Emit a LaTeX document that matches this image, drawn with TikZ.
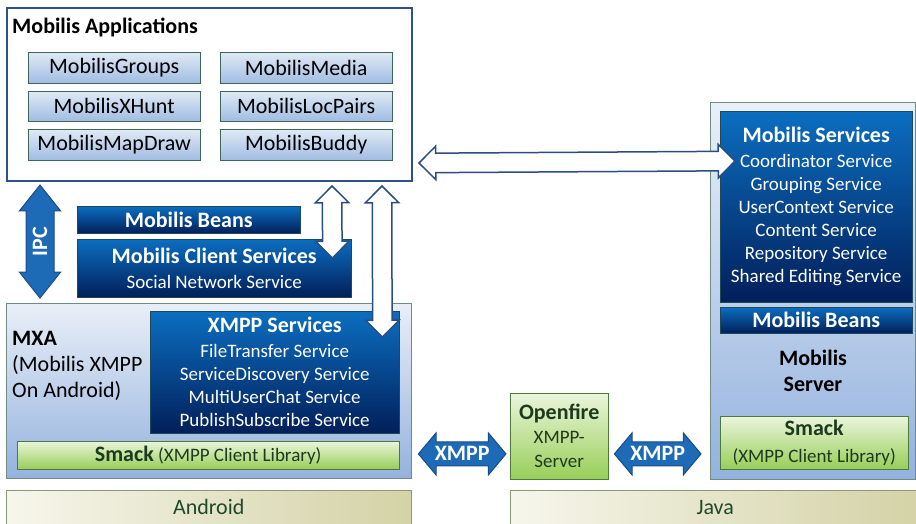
\documentclass[tikz,border=0pt]{standalone}
\usepackage{fontspec}
\setmainfont{Carlito}
\usetikzlibrary{shapes.arrows,calc}

\definecolor{appframe}{HTML}{2F4F8F}
\definecolor{appline}{HTML}{3F6656}
\definecolor{apptop}{HTML}{E0EAF6}
\definecolor{appbot}{HTML}{A0BCE2}
\definecolor{layerline}{HTML}{6F8C80}
\definecolor{layertop}{HTML}{E9EFF7}
\definecolor{layerbot}{HTML}{94B2DE}
\definecolor{darkline}{HTML}{1C4A5A}
\definecolor{darktop}{HTML}{0B6EC0}
\definecolor{darkbot}{HTML}{021F5A}
\definecolor{greenline}{HTML}{4C7A3C}
\definecolor{greentop}{HTML}{EBF5DC}
\definecolor{greenbot}{HTML}{98CE58}
\definecolor{greentext}{HTML}{1E3A1E}
\definecolor{baseedge}{HTML}{8A9A78}
\definecolor{baseleft}{HTML}{F6F6EC}
\definecolor{baseright}{HTML}{D4D2A6}
\definecolor{basetext}{HTML}{1F4A2A}
\definecolor{arrowfill}{HTML}{1D6AB6}
\definecolor{arrowline}{HTML}{1A4C88}
\definecolor{linkline}{HTML}{2C4D7F}

% double block arrow between two points
\newcommand{\blockarrow}[4]{%
  \path let \p1=(#2), \p2=(#3),
    \n1={atan2(\y2-\y1,\x2-\x1)}, \n2={veclen(\x2-\x1,\y2-\y1)} in
    node[#1, minimum height=\n2, rotate=\n1] at ($(#2)!0.5!(#3)$) {#4};}

\begin{document}
\begin{tikzpicture}[x=1pt,y=-1pt]
\tikzstyle{big_font} = [font=\fontsize{22}{26}\selectfont]
\tikzstyle{bold_font} = [font=\bfseries\fontsize{22}{26}\selectfont]
\tikzstyle{frame_style} = [draw=appframe, line width=2pt, fill=white, anchor=north west, inner sep=0pt]
\tikzstyle{app_style} = [draw=appline, top color=apptop, bottom color=appbot, anchor=north west, minimum width=172pt, minimum height=31pt, big_font]
\tikzstyle{layer_style} = [draw=layerline, top color=layertop, bottom color=layerbot, anchor=north west, inner sep=0pt]
\tikzstyle{dark_style} = [draw=darkline, top color=darktop, bottom color=darkbot, text=white, align=center, anchor=north west, inner sep=0pt, font=\fontsize{19}{23}\selectfont]
\tikzstyle{green_style} = [draw=greenline, top color=greentop, bottom color=greenbot, text=greentext, align=center, anchor=north west, inner sep=0pt, font=\fontsize{19}{23}\selectfont]
\tikzstyle{base_style} = [draw=baseedge, left color=baseleft, right color=baseright, text=basetext, anchor=north west, big_font]
\tikzstyle{ipc_style} = [double arrow, draw=arrowline, fill=arrowfill, line width=1pt, minimum width=40pt, double arrow head extend=6.5pt, double arrow tip angle=77, inner xsep=0pt, inner ysep=6.5pt, text height=14pt, text depth=0pt, text=white, font=\bfseries\fontsize{22}{24}\selectfont]
\tikzstyle{xmpp_style} = [ipc_style, minimum width=41pt, double arrow head extend=9pt, double arrow tip angle=100, inner ysep=4.5pt]
\tikzstyle{link_style} = [double arrow, draw=linkline, fill=white, line width=1.5pt, minimum width=32pt, double arrow head extend=7pt, double arrow tip angle=90, inner xsep=0pt, inner ysep=9pt, text height=0pt, text depth=0pt]
    \useasboundingbox (0,0) rectangle (916,523);

    % client side
    \node[frame_style, minimum width=405pt, minimum height=173pt] (apps) at (6,7) {};
    \node[anchor=west, inner sep=0pt, bold_font] (apps_title) at (12,27) {Mobilis Applications};

    \node[app_style] (a1) at (28,52) {MobilisGroups};
    \node[app_style] (a2) at (220,52) {MobilisMedia};
    \node[app_style, minimum height=30pt] (a3) at (28,91) {MobilisXHunt};
    \node[app_style, minimum height=30pt] (a4) at (220,91) {MobilisLocPairs};
    \node[app_style] (a5) at (28,129) {MobilisMapDraw};
    \node[app_style] (a6) at (220,129) {MobilisBuddy};

    \node[dark_style, minimum width=223pt, minimum height=27pt, bold_font] (client_beans) at (77,206) {Mobilis Beans};
    \node[dark_style, minimum width=274pt, minimum height=58pt] (client_services) at (77,239)
        {{\bfseries\fontsize{22}{23}\selectfont Mobilis Client Services}\\[2pt]Social Network Service};

    \node[layer_style, minimum width=405pt, minimum height=175pt] (mxa) at (6,303) {};
    \node[anchor=west, inner sep=0pt, align=left, big_font] (mxa_title) at (12,366)
        {\textbf{MXA}\\(Mobilis XMPP\\On Android)};
    \node[dark_style, minimum width=249pt, minimum height=122pt] (xmpp_services) at (150,311)
        {{\bfseries\fontsize{22}{23}\selectfont XMPP Services}\\[2pt]FileTransfer Service\\ServiceDiscovery Service\\MultiUserChat Service\\PublishSubscribe Service};
    \node[green_style, minimum width=382pt, minimum height=28pt] (smack_client) at (17,441)
        {{\bfseries\fontsize{22}{23}\selectfont Smack} (XMPP Client Library)};

    \node[base_style, minimum width=405pt, minimum height=34pt] (android) at (6,490) {Android};

    % server side
    \node[green_style, minimum width=98pt, minimum height=86pt, font=\fontsize{19}{24}\selectfont] (openfire) at (510,393)
        {{\bfseries\fontsize{22}{24}\selectfont Openfire}\\XMPP-\\Server};

    \node[layer_style, minimum width=205pt, minimum height=377pt] (server) at (710,102) {};
    \node[dark_style, minimum width=192pt, minimum height=191pt] (server_services) at (720,111)
        {{\bfseries\fontsize{22}{23}\selectfont Mobilis Services}\\[2pt]Coordinator Service\\Grouping Service\\UserContext Service\\Content Service\\Repository Service\\Shared Editing Service};
    \node[dark_style, minimum width=192pt, minimum height=26pt, bold_font] (server_beans) at (720,307) {Mobilis Beans};
    \node[align=center, inner sep=0pt, bold_font] (server_title) at (813,371) {Mobilis\\Server};
    \node[green_style, minimum width=188pt, minimum height=53pt, font=\fontsize{19}{27}\selectfont] (smack_server) at (720,416)
        {{\bfseries\fontsize{22}{27}\selectfont Smack}\\(XMPP Client Library)};

    \node[base_style, minimum width=410pt, minimum height=34pt] (java) at (510,490) {Java};

    % connections
    \blockarrow{ipc_style}{$(mxa.north west)+(34,-5)$}{$(apps.south west)+(34,3)$}{IPC}
    \blockarrow{link_style}{$(apps.south west)+(326,4)$}{$(client_services.north east)+(-19,19)$}{}
    \blockarrow{link_style}{$(apps.south west)+(376,4)$}{$(xmpp_services.north east)+(-17,26)$}{}
    \blockarrow{link_style}{$(apps.south east)+(6,-19)$}{$(server_services.north west)+(15,50)$}{}
    \blockarrow{xmpp_style}{$(mxa.south east)+(7,-24.5)$}{$(openfire.south west)+(-4,-25.5)$}{XMPP}
    \blockarrow{xmpp_style}{$(openfire.south east)+(6,-25.5)$}{$(server.south west)+(-9,-25.5)$}{XMPP}
\end{tikzpicture}
\end{document}
